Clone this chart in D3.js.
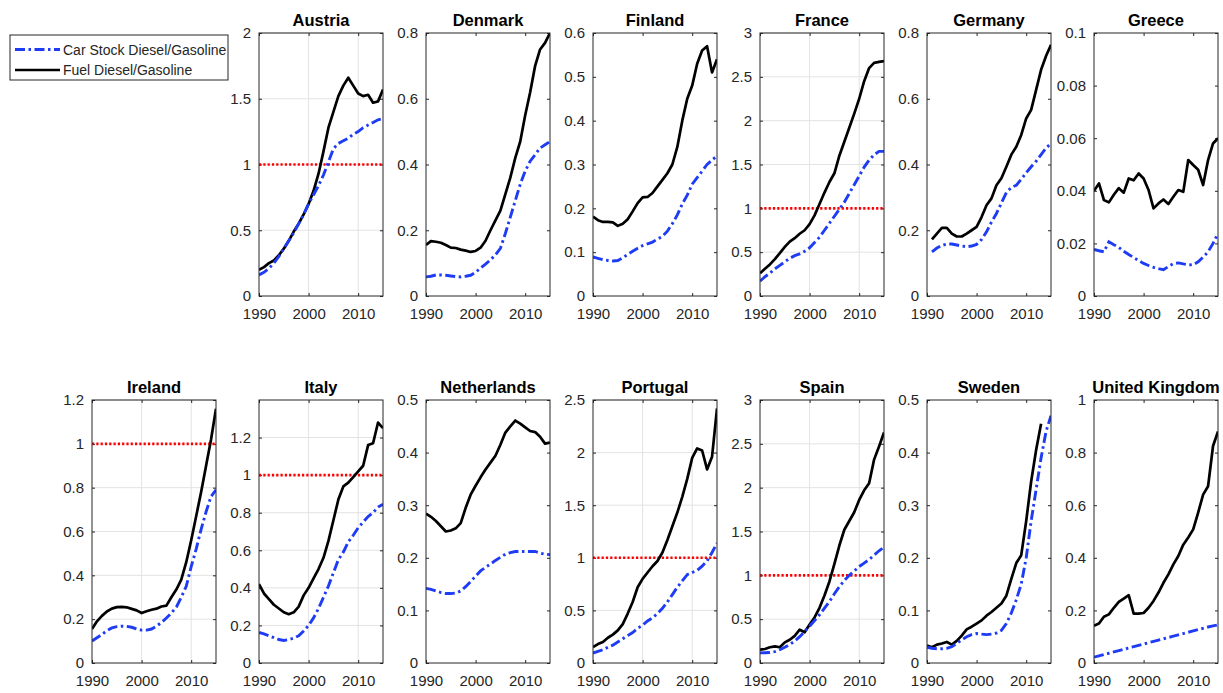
<!DOCTYPE html>
<html>
<head>
<meta charset="utf-8">
<script src="https://cdn.jsdelivr.net/npm/d3@7"></script>
<style>
  body { margin: 0; background: #fff; }
  svg { font-family: "Liberation Sans", Arial, sans-serif; }
</style>
</head>
<body>
<svg id="chart" width="1223" height="693"></svg>
<script>
const years = [1990, 1991, 1992, 1993, 1994, 1995, 1996, 1997, 1998, 1999, 2000, 2001, 2002,
               2003, 2004, 2005, 2006, 2007, 2008, 2009, 2010, 2011, 2012, 2013, 2014, 2015];
const xTicks = [1990, 2000, 2010];

const countries = ["Austria", "Denmark", "Finland", "France", "Germany", "Greece",
                   "Ireland", "Italy", "Netherlands", "Portugal", "Spain", "Sweden", "United Kingdom"];

// y axis: max of domain and the tick labels shown
const yMax = [2, 0.8, 0.6, 3, 0.8, 0.1, 1.2, 1.4, 0.5, 2.5, 3, 0.5, 1];
const yTicks = [
    [0, 0.5, 1, 1.5, 2],
    [0, 0.2, 0.4, 0.6, 0.8],
    [0, 0.1, 0.2, 0.3, 0.4, 0.5, 0.6],
    [0, 0.5, 1, 1.5, 2, 2.5, 3],
    [0, 0.2, 0.4, 0.6, 0.8],
    [0, 0.02, 0.04, 0.06, 0.08, 0.1],
    [0, 0.2, 0.4, 0.6, 0.8, 1, 1.2],
    [0, 0.2, 0.4, 0.6, 0.8, 1, 1.2],
    [0, 0.1, 0.2, 0.3, 0.4, 0.5],
    [0, 0.5, 1, 1.5, 2, 2.5],
    [0, 0.5, 1, 1.5, 2, 2.5, 3],
    [0, 0.1, 0.2, 0.3, 0.4, 0.5],
    [0, 0.2, 0.4, 0.6, 0.8, 1]
];
// panels that cross parity get a grid and the red line at 1
const withParity = ["Austria", "France", "Ireland", "Italy", "Portugal", "Spain"];

// Car stock diesel/gasoline
const stockAustria = [0.16, 0.18, 0.21, 0.25, 0.30, 0.36, 0.42, 0.48, 0.55, 0.62, 0.70, 0.77, 0.84, 0.92, 1.02, 1.12, 1.16, 1.18, 1.20, 1.23, 1.25, 1.28, 1.30, 1.32, 1.34, 1.35];
const stockDenmark = [0.058, 0.060, 0.064, 0.064, 0.063, 0.061, 0.059, 0.058, 0.060, 0.063, 0.072, 0.085, 0.097, 0.110, 0.125, 0.145, 0.19, 0.24, 0.29, 0.34, 0.38, 0.41, 0.43, 0.45, 0.46, 0.47];
const stockFinland = [0.089, 0.086, 0.083, 0.081, 0.080, 0.081, 0.087, 0.095, 0.102, 0.109, 0.115, 0.119, 0.123, 0.130, 0.136, 0.148, 0.165, 0.185, 0.21, 0.23, 0.255, 0.27, 0.285, 0.30, 0.31, 0.32];
const stockFrance = [0.17, 0.22, 0.26, 0.31, 0.35, 0.39, 0.43, 0.46, 0.48, 0.51, 0.55, 0.61, 0.67, 0.75, 0.83, 0.91, 0.99, 1.07, 1.17, 1.27, 1.37, 1.47, 1.55, 1.61, 1.65, 1.65];
const stockGermany = [null, 0.134, 0.146, 0.154, 0.158, 0.158, 0.155, 0.152, 0.150, 0.152, 0.157, 0.172, 0.195, 0.225, 0.251, 0.283, 0.315, 0.330, 0.337, 0.355, 0.375, 0.393, 0.41, 0.43, 0.45, 0.464];
const stockGreece = [0.0177, 0.0172, 0.0168, 0.0206, 0.0195, 0.0185, 0.0170, 0.0158, 0.0146, 0.0135, 0.0124, 0.0116, 0.0109, 0.0104, 0.0100, 0.0112, 0.0123, 0.0126, 0.0122, 0.0119, 0.0118, 0.0130, 0.0148, 0.0168, 0.0200, 0.0238];
const stockIreland = [0.10, 0.115, 0.13, 0.148, 0.16, 0.166, 0.168, 0.167, 0.163, 0.155, 0.150, 0.150, 0.155, 0.168, 0.185, 0.205, 0.228, 0.255, 0.30, 0.35, 0.44, 0.52, 0.61, 0.69, 0.76, 0.79];
const stockItaly = [0.163, 0.155, 0.145, 0.135, 0.125, 0.12, 0.125, 0.132, 0.145, 0.17, 0.20, 0.24, 0.29, 0.35, 0.41, 0.48, 0.55, 0.59, 0.645, 0.68, 0.72, 0.75, 0.78, 0.80, 0.83, 0.845];
const stockNetherlands = [0.142, 0.14, 0.137, 0.134, 0.132, 0.132, 0.133, 0.137, 0.145, 0.155, 0.165, 0.175, 0.182, 0.188, 0.195, 0.201, 0.207, 0.21, 0.212, 0.212, 0.212, 0.212, 0.212, 0.209, 0.207, 0.206];
const stockPortugal = [0.095, 0.11, 0.125, 0.15, 0.17, 0.20, 0.23, 0.26, 0.29, 0.33, 0.36, 0.40, 0.43, 0.47, 0.52, 0.58, 0.65, 0.72, 0.78, 0.84, 0.86, 0.88, 0.92, 0.97, 1.05, 1.14];
const stockSpain = [0.115, 0.117, 0.12, 0.13, 0.152, 0.18, 0.21, 0.25, 0.30, 0.36, 0.42, 0.485, 0.55, 0.625, 0.70, 0.79, 0.87, 0.94, 1.00, 1.05, 1.10, 1.14, 1.18, 1.23, 1.28, 1.32];
const stockSweden = [0.030, 0.028, 0.027, 0.027, 0.028, 0.031, 0.037, 0.044, 0.050, 0.054, 0.056, 0.055, 0.054, 0.055, 0.057, 0.062, 0.075, 0.095, 0.12, 0.15, 0.20, 0.27, 0.33, 0.39, 0.44, 0.47];
const stockUK = [0.022, 0.027, 0.032, 0.037, 0.042, 0.047, 0.052, 0.057, 0.062, 0.067, 0.072, 0.077, 0.082, 0.087, 0.092, 0.097, 0.102, 0.107, 0.112, 0.117, 0.122, 0.127, 0.132, 0.137, 0.141, 0.145];

// Fuel diesel/gasoline
const fuelAustria = [0.20, 0.22, 0.25, 0.27, 0.31, 0.36, 0.42, 0.49, 0.55, 0.62, 0.70, 0.80, 0.93, 1.10, 1.28, 1.40, 1.52, 1.60, 1.66, 1.60, 1.54, 1.52, 1.53, 1.47, 1.48, 1.57];
const fuelDenmark = [0.155, 0.167, 0.165, 0.162, 0.155, 0.147, 0.146, 0.141, 0.138, 0.134, 0.137, 0.147, 0.168, 0.20, 0.23, 0.26, 0.31, 0.36, 0.42, 0.47, 0.55, 0.62, 0.70, 0.75, 0.77, 0.80];
const fuelFinland = [0.181, 0.173, 0.169, 0.169, 0.168, 0.160, 0.165, 0.175, 0.193, 0.212, 0.225, 0.226, 0.235, 0.25, 0.265, 0.28, 0.30, 0.34, 0.40, 0.45, 0.48, 0.53, 0.56, 0.57, 0.51, 0.54];
const fuelFrance = [0.26, 0.31, 0.36, 0.42, 0.49, 0.56, 0.62, 0.66, 0.71, 0.75, 0.82, 0.92, 1.05, 1.18, 1.30, 1.40, 1.60, 1.76, 1.92, 2.08, 2.25, 2.45, 2.60, 2.66, 2.67, 2.68];
const fuelGermany = [null, 0.172, 0.19, 0.207, 0.207, 0.19, 0.181, 0.181, 0.19, 0.20, 0.21, 0.24, 0.276, 0.297, 0.337, 0.358, 0.393, 0.43, 0.454, 0.49, 0.54, 0.566, 0.627, 0.688, 0.73, 0.764];
const fuelGreece = [0.040, 0.0428, 0.0365, 0.0356, 0.0385, 0.041, 0.0393, 0.0447, 0.044, 0.0466, 0.0447, 0.0403, 0.0333, 0.0352, 0.0367, 0.035, 0.0377, 0.0403, 0.0396, 0.0517, 0.0498, 0.048, 0.0422, 0.0517, 0.058, 0.060];
const fuelIreland = [0.155, 0.19, 0.215, 0.235, 0.248, 0.255, 0.256, 0.254, 0.247, 0.24, 0.228, 0.236, 0.243, 0.248, 0.258, 0.262, 0.30, 0.335, 0.38, 0.46, 0.56, 0.67, 0.78, 0.90, 1.02, 1.16];
const fuelItaly = [0.42, 0.37, 0.34, 0.31, 0.29, 0.27, 0.26, 0.27, 0.30, 0.36, 0.40, 0.45, 0.50, 0.56, 0.65, 0.76, 0.87, 0.94, 0.96, 0.99, 1.02, 1.05, 1.16, 1.17, 1.28, 1.25];
const fuelNetherlands = [0.284, 0.278, 0.27, 0.26, 0.25, 0.252, 0.256, 0.266, 0.295, 0.32, 0.337, 0.353, 0.368, 0.381, 0.394, 0.415, 0.438, 0.45, 0.461, 0.455, 0.448, 0.441, 0.439, 0.43, 0.417, 0.419];
const fuelPortugal = [0.152, 0.18, 0.20, 0.24, 0.27, 0.31, 0.37, 0.47, 0.58, 0.72, 0.80, 0.86, 0.92, 0.97, 1.05, 1.17, 1.30, 1.43, 1.58, 1.75, 1.95, 2.04, 2.02, 1.84, 1.96, 2.42];
const fuelSpain = [0.152, 0.16, 0.18, 0.19, 0.18, 0.235, 0.265, 0.31, 0.38, 0.35, 0.44, 0.52, 0.63, 0.77, 0.93, 1.13, 1.34, 1.52, 1.62, 1.72, 1.86, 1.97, 2.05, 2.32, 2.47, 2.63];
const fuelSweden = [0.033, 0.030, 0.035, 0.037, 0.040, 0.035, 0.042, 0.052, 0.064, 0.069, 0.075, 0.081, 0.09, 0.097, 0.105, 0.113, 0.128, 0.16, 0.19, 0.205, 0.27, 0.345, 0.405, 0.455, null, null];
const fuelUK = [0.142, 0.15, 0.176, 0.185, 0.21, 0.232, 0.245, 0.258, 0.188, 0.188, 0.19, 0.21, 0.236, 0.268, 0.305, 0.337, 0.375, 0.407, 0.45, 0.477, 0.508, 0.572, 0.64, 0.672, 0.825, 0.88];

const stockSeries = [stockAustria, stockDenmark, stockFinland, stockFrance, stockGermany, stockGreece,
    stockIreland, stockItaly, stockNetherlands, stockPortugal, stockSpain, stockSweden, stockUK];
const fuelSeries = [fuelAustria, fuelDenmark, fuelFinland, fuelFrance, fuelGermany, fuelGreece,
    fuelIreland, fuelItaly, fuelNetherlands, fuelPortugal, fuelSpain, fuelSweden, fuelUK];

const svg = d3.select("#chart");
const axisColor = "#262626";
const blue = "#1f3cf5";
const panelW = 124, panelH = 263;
const colLeft = i => 92 + i * 167;
const rowTop = [33, 400];
const tickLen = 3;
const fmt = v => String(+v.toFixed(3));

countries.forEach((name, i) => {
    const row = i < 6 ? 0 : 1;
    const col = i < 6 ? i + 1 : i - 6;
    const left = colLeft(col), top = rowTop[row];

    const x = d3.scaleLinear().domain([1990, 2015]).range([0, panelW]);
    const y = d3.scaleLinear().domain([0, yMax[i]]).range([panelH, 0]);

    const g = svg.append("g").attr("transform", `translate(${left},${top})`);
    const grid = withParity.includes(name);

    // Grid
    if (grid) {
        g.append("g").selectAll("line").data(yTicks[i].slice(1))
            .join("line")
            .attr("x1", 0).attr("x2", panelW)
            .attr("y1", d => y(d)).attr("y2", d => y(d))
            .attr("stroke", "#e3e3e3").attr("stroke-width", 1);
        g.append("g").selectAll("line").data(xTicks.slice(1))
            .join("line")
            .attr("x1", d => x(d)).attr("x2", d => x(d))
            .attr("y1", 0).attr("y2", panelH)
            .attr("stroke", "#e3e3e3").attr("stroke-width", 1);
    }

    // Axes with inward ticks on all four sides
    const yAxisL = d3.axisLeft(y).tickValues(yTicks[i]).tickSizeInner(-tickLen).tickSizeOuter(0).tickFormat(fmt).tickPadding(8);
    const yAxisR = d3.axisRight(y).tickValues(yTicks[i]).tickSizeInner(-tickLen).tickSizeOuter(0).tickFormat("");
    const xAxisB = d3.axisBottom(x).tickValues(xTicks).tickSizeInner(-tickLen).tickSizeOuter(0).tickFormat(d3.format("d")).tickPadding(12);
    const xAxisT = d3.axisTop(x).tickValues(xTicks).tickSizeInner(-tickLen).tickSizeOuter(0).tickFormat("");

    const styleAxis = sel => {
        sel.select(".domain").remove();
        sel.selectAll("line").attr("stroke", axisColor);
        sel.selectAll("text").attr("fill", axisColor).style("font-size", "15px").style("font-family", "'Liberation Sans', Arial, sans-serif");
    };
    g.append("g").call(yAxisL).call(styleAxis);
    g.append("g").attr("transform", `translate(${panelW},0)`).call(yAxisR).call(styleAxis);
    g.append("g").attr("transform", `translate(0,${panelH})`).call(xAxisB).call(styleAxis);
    g.append("g").call(xAxisT).call(styleAxis);

    // clip
    g.append("clipPath").attr("id", "clip" + i)
        .append("rect").attr("x", 0).attr("y", 0).attr("width", panelW).attr("height", panelH);
    const plot = g.append("g").attr("clip-path", `url(#clip${i})`);

    if (grid) {
        plot.append("line")
            .attr("x1", x(1990)).attr("x2", x(2015))
            .attr("y1", y(1)).attr("y2", y(1))
            .attr("stroke", "#ff0000").attr("stroke-width", 2.6)
            .attr("stroke-dasharray", "2.2,2.1");
    }

    const line = d3.line()
        .defined(d => d[1] !== null)
        .x(d => x(d[0])).y(d => y(d[1]));

    plot.append("path")
        .datum(years.map((yr, k) => [yr, fuelSeries[i][k]]))
        .attr("d", line)
        .attr("fill", "none").attr("stroke", "#000").attr("stroke-width", 2.7)
        .attr("stroke-linejoin", "round");

    plot.append("path")
        .datum(years.map((yr, k) => [yr, stockSeries[i][k]]))
        .attr("d", line)
        .attr("fill", "none").attr("stroke", blue).attr("stroke-width", 2.9)
        .attr("stroke-dasharray", "10,3.5,2.5,3.5");

    // Box
    g.append("rect")
        .attr("x", 0).attr("y", 0).attr("width", panelW).attr("height", panelH)
        .attr("fill", "none").attr("stroke", axisColor).attr("stroke-width", 1);

    // Title
    g.append("text")
        .attr("x", panelW / 2).attr("y", -7)
        .attr("text-anchor", "middle")
        .style("font-size", "16.5px").style("font-weight", "bold")
        .attr("fill", "#000")
        .text(name);
});

// Legend
const legend = svg.append("g").attr("transform", "translate(10,35)");
legend.append("rect")
    .attr("width", 218).attr("height", 45)
    .attr("fill", "#fff").attr("stroke", axisColor).attr("stroke-width", 1);
const legendItems = [
    { label: "Car Stock Diesel/Gasoline", color: blue, dash: "10,3.5,2.5,3.5", w: 2.9 },
    { label: "Fuel Diesel/Gasoline", color: "#000", dash: null, w: 2.7 }
];
legendItems.forEach((d, k) => {
    const yy = 14.5 + k * 20.5;
    legend.append("line")
        .attr("x1", 5).attr("x2", 50).attr("y1", yy).attr("y2", yy)
        .attr("stroke", d.color).attr("stroke-width", d.w)
        .attr("stroke-dasharray", d.dash);
    legend.append("text")
        .attr("x", 53).attr("y", yy + 5)
        .style("font-size", "14px").attr("fill", axisColor)
        .text(d.label);
});
</script>
</body>
</html>
